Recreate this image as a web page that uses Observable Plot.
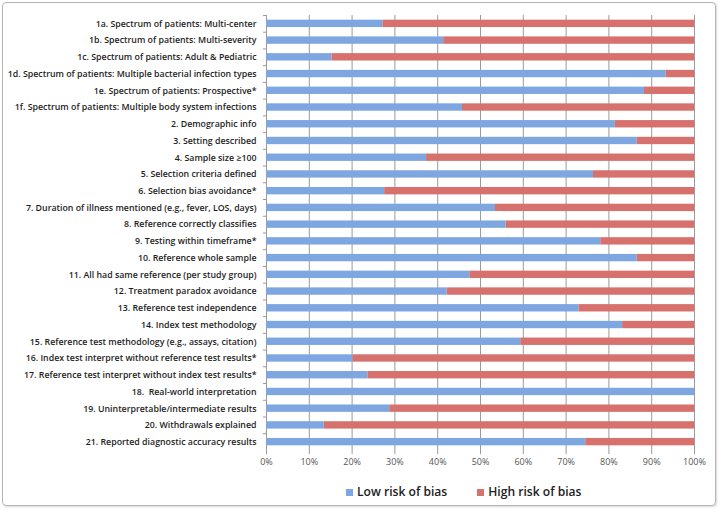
<!DOCTYPE html>
<html>
<head>
<meta charset="utf-8">
<script src="https://cdn.jsdelivr.net/npm/d3@7"></script>
<script src="https://cdn.jsdelivr.net/npm/@observablehq/plot@0.6"></script>
<style>
  html, body { margin: 0; padding: 0; background: #fff; }
  body { width: 720px; height: 510px; position: relative; overflow: hidden; font-family: "Open Sans", sans-serif; }
  #frame { position: absolute; left: 2px; top: 2px; width: 712px; height: 502px; border: 1px solid #b4b4b4; border-radius: 4px; box-shadow: 1px 1px 2px rgba(0,0,0,0.15); pointer-events: none; }
  #chart { position: absolute; left: 0; top: 0; }
  #legend { position: absolute; top: 483px; left: 346px; display: flex; font-size: 12.1px; font-weight: 600; color: #222; }
  .item { display: flex; align-items: center; margin-right: 30px; }
  .sw { width: 7px; height: 7px; margin-right: 4px; margin-top: 2px; }
</style>
</head>
<body>
<div id="chart"></div>
<div id="legend"></div>
<div id="frame"></div>
<script>
const categories = [
  "1a. Spectrum of patients: Multi-center",
  "1b. Spectrum of patients: Multi-severity",
  "1c. Spectrum of patients: Adult & Pediatric",
  "1d. Spectrum of patients: Multiple bacterial infection types",
  "1e. Spectrum of patients: Prospective*",
  "1f. Spectrum of patients: Multiple body system infections",
  "2. Demographic info",
  "3. Setting described",
  "4. Sample size \u2265100",
  "5. Selection criteria defined",
  "6. Selection bias avoidance*",
  "7. Duration of illness mentioned (e.g., fever, LOS, days)",
  "8. Reference correctly classifies",
  "9. Testing within timeframe*",
  "10. Reference whole sample",
  "11. All had same reference (per study group)",
  "12. Treatment paradox avoidance",
  "13. Reference test independence",
  "14. Index test methodology",
  "15. Reference test methodology (e.g., assays, citation)",
  "16. Index test interpret without reference test results*",
  "17. Reference test interpret without index test results*",
  "18.  Real-world interpretation",
  "19. Uninterpretable/intermediate results",
  "20. Withdrawals explained",
  "21. Reported diagnostic accuracy results"
];
const lowRisk  = [27.2, 41.4, 15.3, 93.4, 88.3, 45.8, 81.5, 86.6, 37.4, 76.4, 27.6, 53.5, 56.0, 78.1, 86.6, 47.5, 42.2, 73.0, 83.2, 59.4, 20.2, 23.7, 100, 28.8, 13.5, 74.6];
const highRisk = [72.8, 58.6, 84.7, 6.6, 11.7, 54.2, 18.5, 13.4, 62.6, 23.6, 72.4, 46.5, 44.0, 21.9, 13.4, 52.5, 57.8, 27.0, 16.8, 40.6, 79.8, 76.3, 0, 71.2, 86.5, 25.4];
const seriesNames = ["Low risk of bias", "High risk of bias"];
const seriesColors = ["#7ea6e0", "#d6716e"];
const xTicks = [0, 10, 20, 30, 40, 50, 60, 70, 80, 90, 100];

const rows = [];
categories.forEach((c, i) => {
  rows.push({category: c, series: seriesNames[0], value: lowRisk[i]});
  rows.push({category: c, series: seriesNames[1], value: highRisk[i]});
});

const chart = Plot.plot({
  width: 720,
  height: 475,
  marginLeft: 266,
  marginRight: 26,
  marginTop: 15,
  marginBottom: 25,
  style: {fontFamily: "Open Sans, sans-serif", background: "transparent", overflow: "visible"},
  x: {domain: [0, 100], ticks: xTicks, tickFormat: d => d + "%"},
  y: {domain: categories, paddingInner: 0.56, paddingOuter: 0.28, round: false},
  color: {domain: seriesNames, range: seriesColors},
  marks: [
    Plot.gridX(xTicks, {stroke: "#9a9a9a", strokeOpacity: 1, strokeWidth: 1}),
    Plot.ruleX([0], {stroke: "#9a9a9a"}),
    Plot.ruleY(categories, {y: d => d, x1: -0.7, x2: 0, dy: -8.4, stroke: "#9a9a9a"}),
    Plot.barX(rows, Plot.stackX({y: "category", x: "value", fill: "series", order: seriesNames})),
    Plot.axisX({ticks: xTicks, tickFormat: d => d + "%", tickSize: 4, tickPadding: 4, stroke: "#9a9a9a", fill: "#555", fontSize: 9, label: null}),
    Plot.axisY({tickSize: 0, tickPadding: 10, fontSize: 8.8, fontWeight: 600, fill: "#1e1e1e", label: null})
  ]
});
document.getElementById("chart").appendChild(chart);

const legend = document.getElementById("legend");
seriesNames.forEach((s, i) => {
  const item = document.createElement("div");
  item.className = "item";
  const sw = document.createElement("span");
  sw.className = "sw";
  sw.style.background = seriesColors[i];
  const t = document.createElement("span");
  t.textContent = s;
  item.appendChild(sw);
  item.appendChild(t);
  legend.appendChild(item);
});
</script>
</body>
</html>
